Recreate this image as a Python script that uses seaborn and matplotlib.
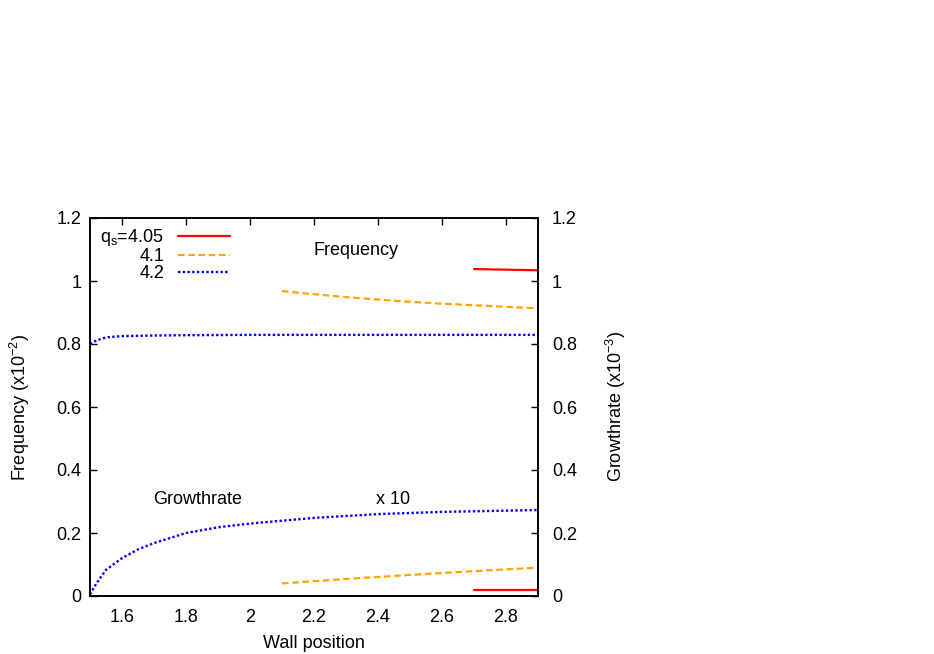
import matplotlib
matplotlib.use("Agg")
import matplotlib.pyplot as plt
import seaborn as sns
import numpy as np
from matplotlib.ticker import FixedLocator, FuncFormatter

# ---- data ----
freq_405_x = [2.7, 2.8, 2.9]
freq_405_y = [1.038, 1.036, 1.034]
freq_41_x = [2.1, 2.2, 2.3, 2.4, 2.5, 2.6, 2.7, 2.8, 2.9]
freq_41_y = [0.968, 0.958, 0.949, 0.941, 0.934, 0.928, 0.923, 0.918, 0.913]
freq_42_x = [1.5, 1.51, 1.52, 1.54, 1.56, 1.6, 1.7, 1.8, 2.0, 2.4, 2.9]
freq_42_y = [0.800, 0.806, 0.811, 0.818, 0.822, 0.825, 0.827, 0.828, 0.829, 0.829, 0.829]

gr_405_x = [2.7, 2.8, 2.9]
gr_405_y = [0.020, 0.020, 0.020]
gr_41_x = [2.1, 2.3, 2.5, 2.7, 2.9]
gr_41_y = [0.040, 0.054, 0.067, 0.079, 0.090]
gr_42_x = [1.5, 1.52, 1.55, 1.6, 1.65, 1.7, 1.8, 1.9, 2.0, 2.2, 2.4, 2.6, 2.8, 2.9]
gr_42_y = [0.005, 0.040, 0.083, 0.120, 0.148, 0.168, 0.200, 0.218, 0.230, 0.248, 0.260, 0.267, 0.271, 0.273]

labels = ["q$_\\mathregular{s}$=4.05", "4.1", "4.2"]
x_ticks = [1.6, 1.8, 2.0, 2.2, 2.4, 2.6, 2.8]
y_ticks = [0, 0.2, 0.4, 0.6, 0.8, 1.0, 1.2]

# ---- style ----
sns.set_style("white")
plt.rcParams['font.family'] = ['Liberation Sans', 'DejaVu Sans']
plt.rcParams['mathtext.fontset'] = 'custom'
plt.rcParams['mathtext.rm'] = 'Liberation Sans'
plt.rcParams['mathtext.it'] = 'Liberation Sans'
plt.rcParams['text.color'] = 'black'
plt.rcParams['axes.labelcolor'] = 'black'
plt.rcParams['xtick.color'] = 'black'
plt.rcParams['ytick.color'] = 'black'
FS = 13

fig = plt.figure(figsize=(9.34, 6.54), dpi=100)
ax = fig.add_axes([90/934, 58/654, 448/934, 378/654])

styles = [
    dict(color="#ff0000", linestyle="-", linewidth=1.6),
    dict(color="#ffa500", linestyle=(0, (3, 1.6)), linewidth=1.6),
    dict(color="#0000ff", linestyle=(0, (1, 1)), linewidth=1.7),
]

freq = [(freq_405_x, freq_405_y), (freq_41_x, freq_41_y), (freq_42_x, freq_42_y)]
grow = [(gr_405_x, gr_405_y), (gr_41_x, gr_41_y), (gr_42_x, gr_42_y)]

for (xs, ys), st, lab in zip(freq, styles, labels):
    sns.lineplot(x=xs, y=ys, ax=ax, label=lab, **st)
for (xs, ys), st in zip(grow, styles):
    sns.lineplot(x=xs, y=ys, ax=ax, **st)

ax.set_xlim(1.5, 2.9)
ax.set_ylim(0, 1.2)
fmt = FuncFormatter(lambda v, p: "%g" % v)
ax.xaxis.set_major_locator(FixedLocator(x_ticks))
ax.yaxis.set_major_locator(FixedLocator(y_ticks))
ax.xaxis.set_major_formatter(fmt)
ax.yaxis.set_major_formatter(fmt)
ax.tick_params(axis='both', direction='in', length=5, width=1, labelsize=FS,
               top=True, right=False, colors='black')
ax.tick_params(axis='x', pad=9)
ax.tick_params(axis='y', pad=6)
for s in ax.spines.values():
    s.set_color('black')
    s.set_linewidth(1.2)

ax2 = ax.twinx()
ax2.set_ylim(0, 1.2)
ax2.yaxis.set_major_locator(FixedLocator(y_ticks))
ax2.yaxis.set_major_formatter(fmt)
ax2.tick_params(axis='y', direction='in', length=5, width=1, labelsize=FS, pad=10, colors='black')
ax2.grid(False)
for s in ax2.spines.values():
    s.set_color('black')
    s.set_linewidth(1.2)

ax.set_xlabel("Wall position", fontsize=FS, labelpad=7)
ax.set_ylabel("Frequency (x10$^{-2}$)", fontsize=FS, labelpad=18)
ax2.set_ylabel("Growthrate (x10$^{-3}$)", fontsize=FS, labelpad=19)

ax.text(2.33, 1.098, "Frequency", fontsize=FS, ha='center', va='center')
ax.text(1.8375, 0.305, "Growthrate", fontsize=FS, ha='center', va='center')
ax.text(2.447, 0.305, "x 10", fontsize=FS, ha='center', va='center')

leg = ax.legend(loc='upper left', markerfirst=False, frameon=False, fontsize=FS,
                handlelength=2.9, handletextpad=0.75, labelspacing=0.0,
                borderaxespad=0.1, bbox_to_anchor=(0.003, 1.0))

fig.savefig("out.png", dpi=100)
